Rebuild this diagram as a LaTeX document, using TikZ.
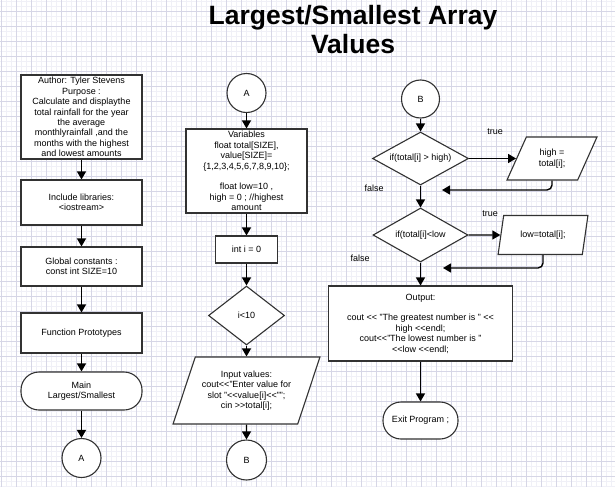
\documentclass[tikz,border=0pt]{standalone}
\usepackage{fontspec}
\setmainfont{Liberation Sans}
\usepackage{tikz}
\usetikzlibrary{positioning,shapes,arrows.meta,shapes.geometric}

\definecolor{gridmajor}{RGB}{214,214,230}
\definecolor{gridminor}{RGB}{240,240,247}
\definecolor{edge}{RGB}{50,50,50}

\begin{document}
\begin{tikzpicture}[x=1pt,y=-1pt,
    txt/.style={font=\fontsize{9}{10.4}\selectfont, align=center, inner sep=0pt},
    box/.style={txt, draw=edge, line width=1.1pt, fill=white, rectangle},
    term/.style={box, rounded corners=18pt},
    conn/.style={box, circle, minimum size=39pt},
    decide/.style={box, diamond},
    io/.style={box, trapezium, trapezium stretches=true},
    arr/.style={-{Triangle[length=8pt,width=9pt]}, line width=1.4pt},
    lbl/.style={font=\fontsize{9}{10}\selectfont, inner sep=0pt}]
                \useasboundingbox (0,0) rectangle (615,487);
                \fill[white] (0,0) rectangle (615,487);
                % background grid
                \foreach \gx in {1.7,6.7,...,615} \draw[gridminor, line width=0.5pt] (\gx,0) -- (\gx,487);
                \foreach \gy in {1.7,6.7,...,487} \draw[gridminor, line width=0.5pt] (0,\gy) -- (615,\gy);
                \foreach \gx in {1.7,16.7,...,615} \draw[gridmajor, line width=0.7pt] (\gx,0) -- (\gx,487);
                \foreach \gy in {11.7,26.7,...,487} \draw[gridmajor, line width=0.7pt] (0,\gy) -- (615,\gy);

                \node[font=\fontsize{26.5}{29}\selectfont\bfseries, align=center] (title) at (353,30) {Largest/Smallest Array\\Values};

                % left column
                \node[box, minimum width=121pt, minimum height=84pt] (info) at (81.5,117) {Author: Tyler Stevens\\Purpose :\\Calculate and displaythe\\total rainfall for the year\\the average\\monthlyrainfall ,and the\\months with the highest\\and lowest amounts};
                \node[box, minimum width=121pt, minimum height=45pt] (libs) at (81.5,202.5) {Include libraries:\\<iostream>};
                \node[box, minimum width=121pt, minimum height=39pt] (consts) at (81.5,266.5) {Global constants :\\const int SIZE=10};
                \node[box, minimum width=121pt, minimum height=40pt] (protos) at (81.5,333) {Function Prototypes};
                \node[term, minimum width=121pt, minimum height=38pt] (mainT) at (81.5,391) {Main\\Largest/Smallest};
                \node[conn] (conA) at (81.5,458) {A};

                % middle column
                \node[conn] (conA2) at (246.5,93) {A};
                \node[box, minimum width=121pt, minimum height=84pt] (vars) at (246.5,171) {Variables\\float total[SIZE],\\value[SIZE]=\\\{1,2,3,4,5,6,7,8,9,10\};\\[10.4pt]float low=10 ,\\high = 0 ; //highest\\amount};
                \node[box, minimum width=62pt, minimum height=27pt] (init) at (246.5,249.5) {int i = 0};
                \node[decide, minimum width=76pt, minimum height=59pt] (loop) at (246.5,315.5) {i<10};
                \node[io, trapezium left angle=64, trapezium right angle=116, minimum width=147pt, minimum height=67pt] (input) at (246.5,390.5) {Input values:\\cout<{}<"Enter value for\\slot "<{}<value[i]<{}<"";\\cin >{}>total[i];};
                \node[conn, minimum size=40pt] (conB) at (246.5,460) {B};

                % right column
                \node[conn, minimum size=38pt] (conB2) at (420.5,99) {B};
                \node[decide, shape aspect=1.9, minimum width=96pt, minimum height=53pt] (ifHigh) at (420.5,158.5) {if(total[i] > high)};
                \node[io, trapezium left angle=62, trapezium right angle=118, minimum width=90pt, minimum height=43pt] (setHigh) at (552,158.5) {high =\\total[i];};
                \node[decide, shape aspect=1.8, minimum width=95pt, minimum height=54pt] (ifLow) at (420.5,235) {if(total[i]<low};
                \node[io, trapezium left angle=69, trapezium right angle=111, minimum width=90pt, minimum height=39pt] (setLow) at (543,235) {low=total[i];};
                \node[box, minimum width=184pt, minimum height=75pt] (output) at (420.5,323.5) {Output:\\[10.4pt]cout <{}< "The greatest number is " <{}<\\high <{}<endl;\\cout<{}<"The lowest number is "\\<{}<low <{}<endl;};
                \node[term, minimum width=75pt, minimum height=37pt] (exitT) at (420.5,420.5) {Exit Program ;};

                \node[lbl] (t1) at (495,132) {true};
                \node[lbl] (f1) at (374,188) {false};
                \node[lbl] (t2) at (490,214) {true};
                \node[lbl] (f2) at (360,258) {false};

                \coordinate (hiBack) at (442,190);
                \coordinate (loBack) at (443,268);

                % connectors
                \draw[arr] (info) -- (libs);
                \draw[arr] (libs) -- (consts);
                \draw[arr] (consts) -- (protos);
                \draw[arr] (protos) -- (mainT);
                \draw[arr] (mainT) -- (conA);
                \draw[arr] (conA2) -- (vars);
                \draw[arr] (vars) -- (init);
                \draw[arr] (init) -- (loop);
                \draw[arr] (loop) -- (input);
                \draw[arr] (input) -- (conB);
                \draw[arr] (conB2) -- (ifHigh);
                \draw[arr] (ifHigh.east) -- (setHigh.west);
                \draw[arr, rounded corners=5pt] (setHigh.south) |- (hiBack);
                \draw[arr] (ifHigh) -- (ifLow);
                \draw[arr] (ifLow.east) -- (setLow.west);
                \draw[arr, rounded corners=5pt] (setLow.south) |- (loBack);
                \draw[arr] (ifLow) -- (output);
                \draw[arr] (output) -- (exitT);
            \end{tikzpicture}
\end{document}
